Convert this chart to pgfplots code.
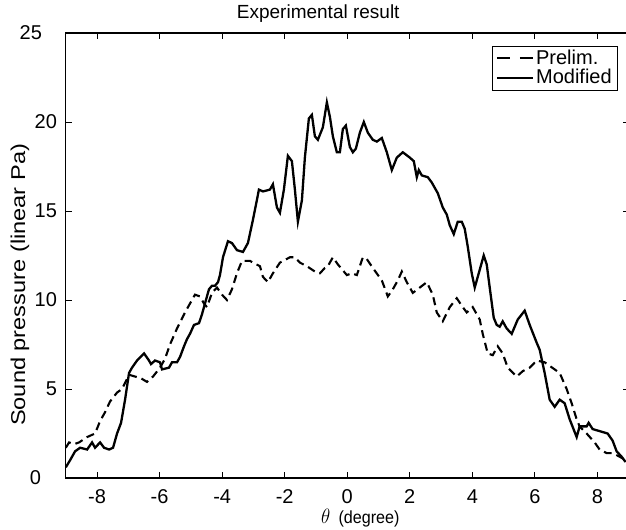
\documentclass[border=0pt]{standalone}
\usepackage{pgfplots}
\pgfplotsset{compat=1.18}
\usepackage{fontspec}
\setmainfont{Liberation Sans}
\begin{document}
\fontsize{20}{24}\selectfont
\begin{tikzpicture}
\begin{axis}[
  scale only axis,
  width=562.9pt, height=445pt,
  xmin=-9, xmax=9, ymin=0, ymax=25,
  xtick={-8,-6,...,8}, ytick={0,5,...,25},
  yticklabels={{0\hspace*{16pt}},5,10,15,20,{25\hspace*{15pt}}},
  tick pos=both, tick align=inside,
  major tick length=6pt,
  axis line style={line width=1.1pt},
  every tick/.style={line width=0.9pt, black},
  /pgf/number format/assume math mode=true,
  ticklabel style={font=\fontsize{20}{24}\selectfont},
  yticklabel style={xshift=-2pt},
  xticklabel style={yshift=-5pt},
  title={Experimental result},
  title style={font=\fontsize{19}{22}\selectfont, yshift=-2pt, xshift=-29pt},
  xlabel={{\fontsize{21}{24}\selectfont$\theta$}\hspace{9pt}(degree)},
  xlabel style={font=\fontsize{17.5}{20}\selectfont, yshift=8pt, xshift=13pt, xscale=0.92},
  ylabel={Sound pressure (linear Pa)},
  ylabel style={font=\fontsize{20}{24}\selectfont, at={(axis description cs:-0.0814,0.434)}, anchor=center, inner sep=0pt, xscale=1.18},
  legend style={at={(0.981,0.971)}, anchor=north east, font=\fontsize{20}{23}\selectfont, draw=black, line width=0.6pt, inner xsep=4pt, inner ysep=1.5pt, row sep=-2pt},
  legend cell align=left,
  legend image code/.code={\draw[#1] (0pt,0pt) -- (36pt,0pt);},
]
\addplot[black, line width=2.1pt, dash pattern=on 8pt off 5pt, legend image post style={dash pattern=on 13pt off 10pt}] coordinates {
(-9.0,1.7)(-8.895,2.0)(-8.735,1.9)(-8.575,2.0)(-8.319,2.3)(-8.064,2.5)(-7.904,3.2)(-7.744,3.7)(-7.585,4.3)(-7.361,4.8)(-7.201,5.0)(-6.978,5.8)(-6.786,5.7)(-6.594,5.6)(-6.403,5.4)(-6.211,5.7)(-5.987,6.2)(-5.827,6.7)(-5.668,7.5)(-5.444,8.4)(-5.188,9.3)(-5.029,9.8)(-4.869,10.3)(-4.709,10.2)(-4.581,9.8)(-4.486,9.6)(-4.326,10.4)(-4.166,10.7)(-4.006,10.3)(-3.847,10.0)(-3.687,10.6)(-3.527,11.5)(-3.367,12.2)(-3.112,12.2)(-3.016,12.1)(-2.792,11.9)(-2.696,11.3)(-2.537,11.0)(-2.377,11.5)(-2.153,12.1)(-1.834,12.4)(-1.674,12.4)(-1.514,12.1)(-1.291,11.9)(-1.035,11.6)(-0.875,11.5)(-0.716,11.8)(-0.620,11.9)(-0.460,12.4)(-0.300,12.0)(-0.013,11.4)(0.147,11.5)(0.307,11.4)(0.499,12.4)(0.626,12.3)(0.818,11.8)(1.106,11.1)(1.297,10.2)(1.457,10.6)(1.617,11.1)(1.745,11.6)(1.904,11.0)(2.096,10.4)(2.320,10.7)(2.543,11.0)(2.735,10.3)(2.863,9.3)(3.054,8.8)(3.278,9.6)(3.502,10.1)(3.693,9.6)(3.821,9.3)(4.013,9.6)(4.237,8.9)(4.332,8.1)(4.492,7.0)(4.652,6.9)(4.812,7.4)(4.971,7.0)(5.131,6.2)(5.419,5.7)(5.610,6.0)(5.834,6.2)(6.058,6.6)(6.313,6.5)(6.473,6.3)(6.793,5.9)(7.016,5.0)(7.176,4.2)(7.336,3.3)(7.431,2.9)(7.655,2.5)(7.911,2.0)(8.070,1.6)(8.294,1.4)(8.486,1.4)(8.709,1.2)(8.901,1.0)
};
\addlegendentry{Prelim.}
\addplot[black, line width=2.3pt] coordinates {
(-9.0,0.6)(-8.863,1.0)(-8.703,1.5)(-8.543,1.7)(-8.319,1.6)(-8.160,2.0)(-8.064,1.7)(-7.904,2.0)(-7.776,1.7)(-7.617,1.6)(-7.489,1.7)(-7.361,2.5)(-7.233,3.1)(-7.105,4.4)(-6.978,5.9)(-6.882,6.2)(-6.722,6.6)(-6.498,7.0)(-6.339,6.6)(-6.275,6.4)(-6.147,6.6)(-5.987,6.5)(-5.923,6.1)(-5.700,6.2)(-5.604,6.5)(-5.444,6.5)(-5.348,6.8)(-5.220,7.4)(-5.125,7.8)(-5.029,8.1)(-4.901,8.6)(-4.741,8.7)(-4.645,9.2)(-4.550,9.8)(-4.422,10.6)(-4.326,10.8)(-4.230,10.8)(-4.134,11.0)(-4.070,11.4)(-3.974,12.4)(-3.815,13.3)(-3.687,13.2)(-3.527,12.8)(-3.335,12.7)(-3.176,13.2)(-3.016,14.5)(-2.824,16.2)(-2.696,16.1)(-2.473,16.2)(-2.377,16.5)(-2.249,15.2)(-2.153,14.9)(-2.026,16.2)(-1.898,18.1)(-1.770,17.8)(-1.674,16.2)(-1.578,14.4)(-1.450,15.6)(-1.355,18.0)(-1.227,20.2)(-1.131,20.4)(-1.035,19.2)(-0.939,19.0)(-0.780,19.7)(-0.652,21.1)(-0.556,20.3)(-0.460,19.2)(-0.332,18.3)(-0.236,18.3)(-0.141,19.6)(-0.045,19.8)(0.083,18.6)(0.179,18.3)(0.275,18.5)(0.403,19.4)(0.530,20.0)(0.658,19.4)(0.818,19.0)(0.946,18.9)(1.106,19.1)(1.265,18.3)(1.425,17.3)(1.585,18.0)(1.777,18.3)(2.000,18.0)(2.128,17.8)(2.224,16.9)(2.288,17.3)(2.384,17.0)(2.575,16.9)(2.703,16.6)(2.799,16.3)(2.895,16.0)(3.054,15.2)(3.182,14.8)(3.278,14.2)(3.406,13.7)(3.534,14.4)(3.661,14.4)(3.757,14.0)(3.853,13.0)(3.981,11.5)(4.077,10.7)(4.173,11.3)(4.364,12.5)(4.460,12.0)(4.556,10.7)(4.684,9.0)(4.780,8.6)(4.876,8.5)(4.971,8.8)(5.099,8.4)(5.259,8.1)(5.451,8.9)(5.674,9.4)(5.834,8.6)(6.058,7.6)(6.154,7.2)(6.313,5.9)(6.473,4.4)(6.633,4.0)(6.793,4.4)(6.952,4.2)(7.112,3.3)(7.336,2.3)(7.431,2.9)(7.655,2.9)(7.719,3.1)(7.847,2.75)(8.134,2.6)(8.326,2.5)(8.486,2.1)(8.614,1.5)(8.773,1.2)(8.901,0.9)
};
\addlegendentry{Modified}
\end{axis}
\pgfresetboundingbox
\path ([shift={(-65.8pt,-51pt)}]current axis.south west) rectangle ([shift={(-2.7pt,33pt)}]current axis.north east);
\end{tikzpicture}
\end{document}
